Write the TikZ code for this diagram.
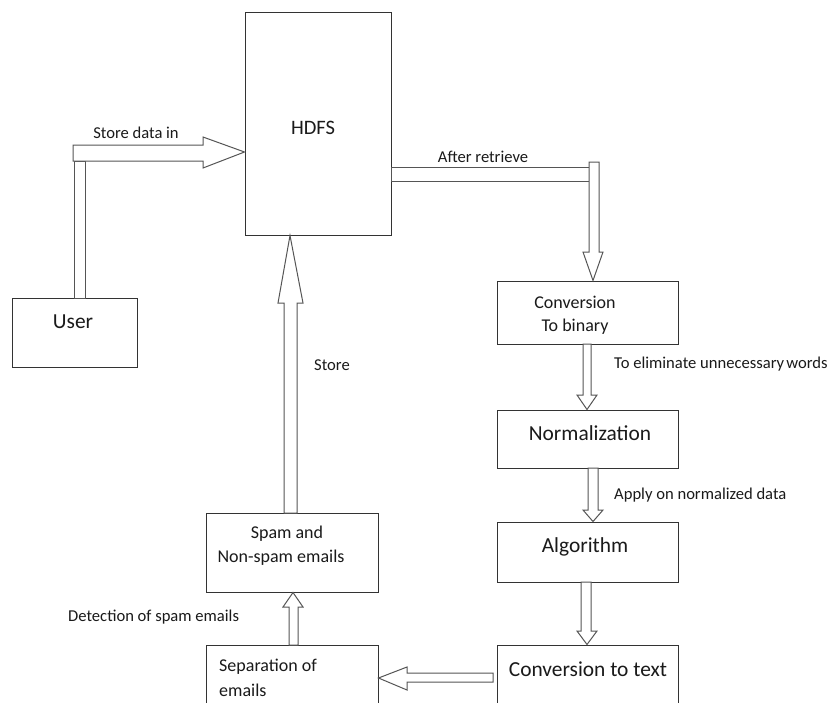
\documentclass[tikz,border=0pt]{standalone}
\usepackage{fontspec}
\setmainfont{Carlito}
\usetikzlibrary{calc}
\definecolor{ln}{HTML}{333333}
\definecolor{ar}{HTML}{555555}
\definecolor{tx}{HTML}{1A1A1A}
\tikzset{
  box/.style={draw=ln, line width=1pt, fill=white, minimum width=#1, inner sep=0pt},
  blk/.style={draw=ar, line width=1pt, fill=white, line join=miter},
  lbl/.style={text=tx, inner sep=0pt, font=\fontsize{16.6}{19}\selectfont},
  btxt/.style={text=tx, inner sep=0pt, align=center, font=\fontsize{18}{24}\selectfont},
  bigtxt/.style={text=tx, inner sep=0pt, font=\fontsize{21.4}{24}\selectfont}
}
\begin{document}
\begin{tikzpicture}[x=1pt,y=-1pt]
\useasboundingbox (0,0) rectangle (830,702);
\clip (0,0) rectangle (830,702);
\fill[white] (0,0) rectangle (830,702);
% boxes
\node[box=146pt, minimum height=223pt] (hdfs) at (318,123.5) {};
\node[box=125pt, minimum height=69pt] (user) at (74.5,332.5) {};
\node[box=181pt, minimum height=63pt] (bin) at (587.5,312.5) {};
\node[box=181pt, minimum height=58pt] (norm) at (587.5,439) {};
\node[box=181pt, minimum height=60pt] (alg) at (587.5,552) {};
\node[box=181pt, minimum height=80pt] (ctext) at (587.5,685) {};
\node[box=172pt, minimum height=79pt] (spam) at (292,552.5) {};
\node[box=172pt, minimum height=80pt] (sep) at (292,685) {};
% box texts
\node[btxt, font=\fontsize{20.5}{24}\selectfont] (thdfs) at (313,128) {HDFS};
\node[bigtxt] (tuser) at (73,322) {User};
\node[btxt] (tbin1) at (575,302) {Conversion};
\node[btxt] (tbin2) at (575,327) {To binary};
\node[bigtxt] (tnorm) at (590,433) {Normalization};
\node[bigtxt] (talg) at (585,547) {Algorithm};
\node[bigtxt] (tctext) at (588,669) {Conversion to text};
\node[btxt] (tspam1) at (287,534) {Spam and};
\node[btxt] (tspam2) at (281,558) {Non-spam emails};
\node[btxt, anchor=west] (tsep1) at (219,667) {Separation of};
\node[btxt, anchor=west] (tsep2) at (219,690) {emails};
% arrow labels
\node[lbl] (lstore) at (136,133) {Store data in};
\node[lbl] (lafter) at (483,157) {After retrieve};
\node[lbl, anchor=west] (lelim) at (614,364) {To eliminate unnecessary\hspace{-0.1em} words};
\node[lbl, anchor=west] (lapply) at (614,495) {Apply on normalized data};
\node[lbl] (lst) at (332,365) {Store};
\node[lbl, anchor=west] (ldet) at (68,617) {Detection of spam emails};
% User -> HDFS
\draw[blk] (74,298) rectangle (85,161);
\draw[blk] (73,145) -- (203,145) -- (203,137) -- (hdfs.west |- 0,152) -- (203,168) -- (203,161) -- (73,161) -- cycle;
% HDFS -> binary
\draw[blk] (hdfs.east |- 0,167) rectangle (589,181);
\draw[blk] (589,162) -- (599,162) -- (599,252) -- (603,252) -- (bin.north -| 593,0) -- (583,252) -- (589,252) -- cycle;
% binary -> norm
\draw[blk] (583,344) -- (591,344) -- (591,395) -- (597,395) -- (norm.north -| 587,0) -- (577,395) -- (583,395) -- cycle;
% norm -> alg
\draw[blk] (588,468) -- (598,468) -- (598,510) -- (603,510) -- (alg.north -| 593,0) -- (583,510) -- (588,510) -- cycle;
% alg -> ctext
\draw[blk] (581,582) -- (591,582) -- (591,631) -- (597,631) -- (ctext.north -| 587,0) -- (577,631) -- (581,631) -- cycle;
% ctext -> sep
\draw[blk] (493,673) -- (493,682) -- (407,682) -- (407,690) -- (sep.east |- 0,678) -- (407,667) -- (407,673) -- cycle;
% sep -> spam
\draw[blk] (289,645) -- (289,607) -- (283,607) -- (spam.south -| 293,0) -- (303,607) -- (298,607) -- (298,645) -- cycle;
% spam -> hdfs
\draw[blk] (284,513) -- (284,303) -- (278,303) -- (hdfs.south -| 290,0) -- (303,303) -- (297,303) -- (297,513) -- cycle;
\end{tikzpicture}
\end{document}
